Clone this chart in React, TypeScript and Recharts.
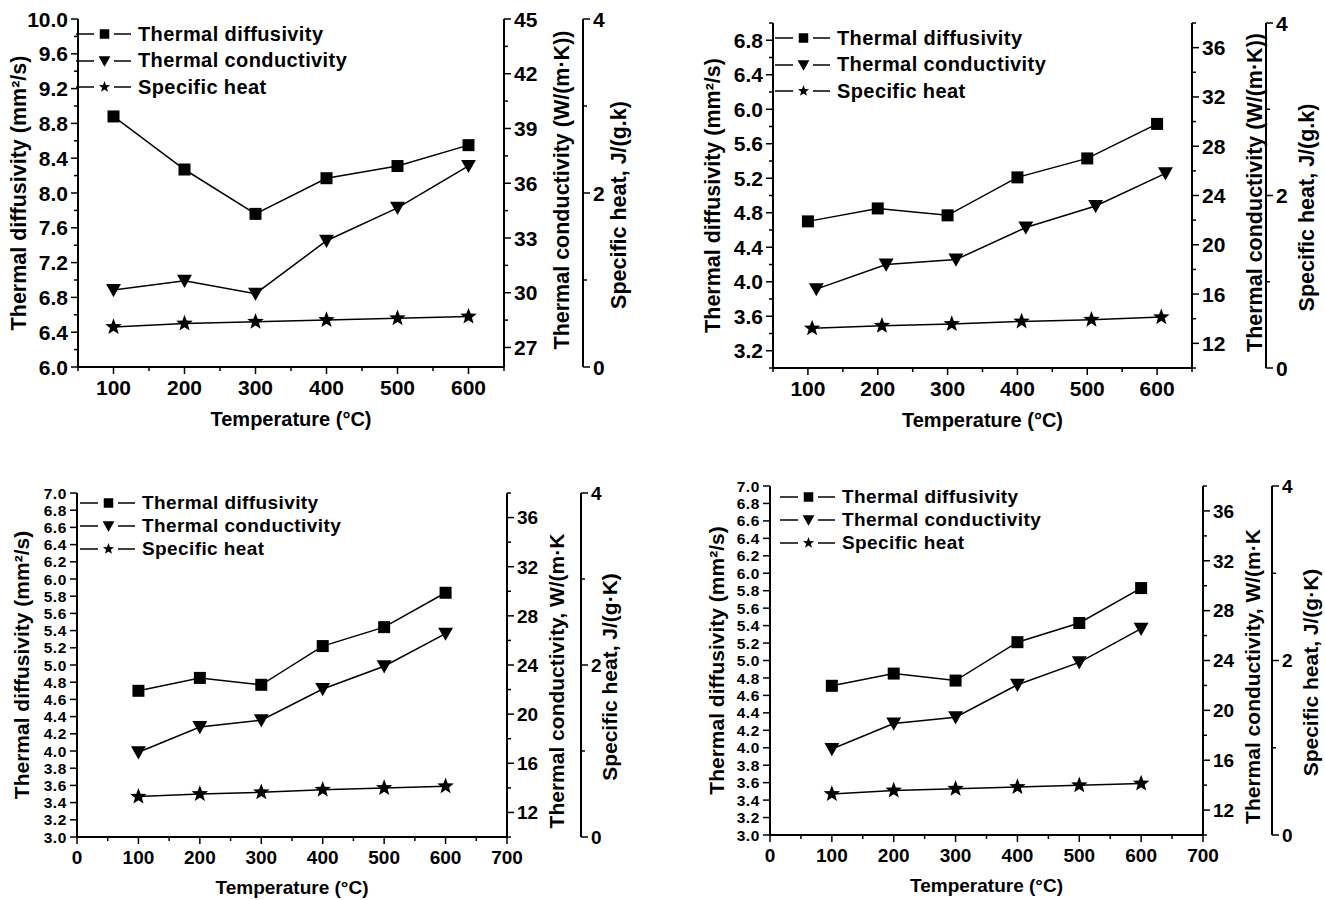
import React from 'react';
import { LineChart, Line, XAxis, YAxis, Legend } from 'recharts';

const FONT = '"Liberation Sans", Arial, Helvetica, sans-serif';
const INK = '#000';

// temperatures (°C)
const temps = [100, 200, 300, 400, 500, 600];

// panel a
const diffA = [8.88, 8.27, 7.76, 8.17, 8.31, 8.55];
const condA = [30.15, 30.65, 29.95, 32.85, 34.65, 36.95];
const heatA = [0.46, 0.5, 0.52, 0.54, 0.56, 0.58];

// panel b
const diffB = [4.7, 4.85, 4.77, 5.21, 5.43, 5.83];
const condB = [16.4, 18.4, 18.8, 21.4, 23.15, 25.8];
const heatB = [0.46, 0.49, 0.51, 0.54, 0.56, 0.59];

// panel c (lower left)
const diffC = [4.7, 4.85, 4.77, 5.22, 5.44, 5.84];
const condC = [16.9, 18.95, 19.5, 22.05, 23.9, 26.55];
const heatC = [0.47, 0.5, 0.52, 0.55, 0.57, 0.59];

// panel c (lower right)
const diffD = [4.71, 4.85, 4.77, 5.21, 5.43, 5.83];
const condD = [16.9, 18.95, 19.45, 22.05, 23.85, 26.55];
const heatD = [0.47, 0.51, 0.53, 0.55, 0.57, 0.59];

// ticks
const xMajorAB = [100, 200, 300, 400, 500, 600];
const xMinorAB = [50, 150, 250, 350, 450, 550, 650];
const xMajorCD = [0, 100, 200, 300, 400, 500, 600, 700];
const xMinorCD = [50, 150, 250, 350, 450, 550, 650];
const diffMajorA = [6.0, 6.4, 6.8, 7.2, 7.6, 8.0, 8.4, 8.8, 9.2, 9.6, 10.0];
const diffMinorA = [6.2, 6.6, 7.0, 7.4, 7.8, 8.2, 8.6, 9.0, 9.4, 9.8];
const diffMajorB = [3.2, 3.6, 4.0, 4.4, 4.8, 5.2, 5.6, 6.0, 6.4, 6.8];
const diffMinorB = [3.0, 3.4, 3.8, 4.2, 4.6, 5.0, 5.4, 5.8, 6.2, 6.6, 7.0];
const diffMajorCD = [3.0, 3.2, 3.4, 3.6, 3.8, 4.0, 4.2, 4.4, 4.6, 4.8, 5.0, 5.2, 5.4, 5.6, 5.8, 6.0, 6.2, 6.4, 6.6, 6.8, 7.0];
const condMajorA = [27, 30, 33, 36, 39, 42, 45];
const condMinorA = [28.5, 31.5, 34.5, 37.5, 40.5, 43.5];
const condMajorB = [12, 16, 20, 24, 28, 32, 36];
const condMinorB = [10, 14, 18, 22, 26, 30, 34, 38];
const heatMajor = [0, 2, 4];
const heatTicks = [0, 1, 2, 3, 4];

const legendItems = [
  { name: 'Thermal diffusivity', shape: 'square' },
  { name: 'Thermal conductivity', shape: 'triangle' },
  { name: 'Specific heat', shape: 'star' },
];

const txt = (fontSize: number) => ({ fill: INK, fontSize, fontWeight: 700, fontFamily: FONT });

function starPath(cx: number, cy: number, r: number) {
  let d = '';
  for (let i = 0; i < 10; i++) {
    const rr = i % 2 === 0 ? r : r * 0.42;
    const a = -Math.PI / 2 + (i * Math.PI) / 5;
    d += (i === 0 ? 'M' : 'L') + (cx + rr * Math.cos(a)).toFixed(2) + ',' + (cy + rr * Math.sin(a)).toFixed(2);
  }
  return d + 'Z';
}

function Marker({ shape, cx, cy, s }: { shape: string; cx: number; cy: number; s: number }) {
  if (shape === 'square') return <rect x={cx - s / 2} y={cy - s / 2} width={s} height={s} fill={INK} />;
  if (shape === 'triangle')
    return <path d={`M${cx - s * 0.62},${cy - s * 0.5} L${cx + s * 0.62},${cy - s * 0.5} L${cx},${cy + s * 0.6} Z`} fill={INK} />;
  return <path d={starPath(cx, cy, s * 0.62)} fill={INK} />;
}

const dotOf = (shape: string, s: number) => (p: any) => {
  if (p.cx == null || p.cy == null) return <g key={p.index} />;
  return <Marker key={p.index} shape={shape} cx={p.cx} cy={p.cy} s={s} />;
};

function tickOf(side: 'left' | 'right' | 'bottom', major: number[], fontSize: number, digits: number, spacing = 0) {
  return (props: any) => {
    const { x, y, payload } = props;
    const v = Number(payload.value);
    const isMajor = major.some((m) => Math.abs(m - v) < 1e-6);
    const len = isMajor ? 7 : 4;
    const label = isMajor ? v.toFixed(digits) : '';
    const style = { ...txt(fontSize), letterSpacing: spacing };
    if (side === 'left')
      return (
        <g>
          <line x1={x} y1={y} x2={x - len} y2={y} stroke={INK} strokeWidth={1.5} />
          {label && <text x={x - 10} y={y} dy="0.36em" textAnchor="end" {...style}>{label}</text>}
        </g>
      );
    if (side === 'right')
      return (
        <g>
          <line x1={x} y1={y} x2={x + len} y2={y} stroke={INK} strokeWidth={1.5} />
          {label && <text x={x + 10} y={y} dy="0.36em" textAnchor="start" {...style}>{label}</text>}
        </g>
      );
    return (
      <g>
        <line x1={x} y1={y} x2={x} y2={y + len} stroke={INK} strokeWidth={1.5} />
        {label && <text x={x} y={y + 13 + fontSize * 0.72} textAnchor="middle" {...style}>{label}</text>}
      </g>
    );
  };
}

const vTitle = (x: number, y: number, text: string, fontSize: number) => () =>
  (
    <text x={x} y={y} transform={`rotate(-90 ${x} ${y})`} textAnchor="middle" dy="0.36em" {...txt(fontSize)}>
      {text}
    </text>
  );

interface PanelProps {
  left: number; top: number; width: number; height: number;
  margin: { top: number; right: number; bottom: number; left: number };
  leftW: number; condW: number; heatW: number; xH: number;
  xDomain: [number, number]; xMajor: number[]; xMinor: number[];
  diffDomain: [number, number]; diffMajor: number[]; diffMinor: number[];
  condDomain: [number, number]; condMajor: number[]; condMinor: number[];
  condShift: number; heatShift: number;
  diff: number[]; cond: number[]; heat: number[];
  letter: string; letterX: number; letterY: number;
  condTitle: string; heatTitle: string;
  titleX: [number, number, number]; titleDy: [number, number, number]; xTitleY: number;
  tickFont: number; leftTickFont: number; leftSpacing: number; titleFont: number; xTitleFont: number; legendFont: number;
  legendX: number; legendY: number; legendRow: number;
}

function Panel(p: PanelProps) {
  const data = temps.map((t, i) => ({ t, diff: p.diff[i], cond: p.cond[i], heat: p.heat[i] }));
  const plotTop = p.margin.top;
  const plotH = p.height - p.margin.top - p.margin.bottom - p.xH;
  const plotL = p.margin.left + p.leftW;
  const plotW = p.width - plotL - p.margin.right - p.condW - p.heatW;
  const midY = plotTop + plotH / 2;
  const axisLine = { stroke: INK, strokeWidth: 2 };

  const legendContent = () => (
    <div style={{ fontFamily: FONT, fontWeight: 700, fontSize: p.legendFont, color: INK }}>
      {legendItems.map((it) => (
        <div key={it.name} style={{ display: 'flex', alignItems: 'center', height: p.legendRow, whiteSpace: 'nowrap' }}>
          <svg width={62} height={16} style={{ display: 'block', flex: 'none' }}>
            <line x1={0} y1={8} x2={18} y2={8} stroke={INK} strokeWidth={1.5} />
            <line x1={38} y1={8} x2={55} y2={8} stroke={INK} strokeWidth={1.5} />
            <Marker shape={it.shape} cx={28.5} cy={8} s={9.5} />
          </svg>
          <span style={{ letterSpacing: 0.4 }}>{it.name}</span>
        </div>
      ))}
    </div>
  );

  return (
    <div style={{ position: 'absolute', left: p.left, top: p.top, width: p.width, height: p.height }}>
      <LineChart width={p.width} height={p.height} data={data} margin={p.margin}>
        <XAxis
          xAxisId="x" dataKey="t" type="number" domain={p.xDomain} allowDataOverflow
          ticks={[...p.xMajor, ...p.xMinor].sort((a, b) => a - b)} interval={0}
          height={p.xH} tickSize={0} tickMargin={0} tickLine={false} axisLine={axisLine}
          tick={tickOf('bottom', p.xMajor, p.tickFont, 0)}
          label={() => (
            <text x={plotL + plotW / 2} y={p.xTitleY} textAnchor="middle" dy="0.36em" {...txt(p.xTitleFont)}>
              Temperature (°C)
            </text>
          )}
        />
        <XAxis
          xAxisId="top" orientation="top" type="number" domain={p.xDomain} allowDataOverflow
          height={0} tick={false} tickLine={false} axisLine={axisLine}
          label={() => (
            <text x={p.letterX} y={p.letterY} textAnchor="end" dy="0.36em" {...txt(p.titleFont + 3)}>
              {p.letter}
            </text>
          )}
        />
        <XAxis xAxisId="xc" dataKey="t" type="number" hide allowDataOverflow
          domain={[p.xDomain[0] - p.condShift, p.xDomain[1] - p.condShift]} />
        <XAxis xAxisId="xh" dataKey="t" type="number" hide allowDataOverflow
          domain={[p.xDomain[0] - p.heatShift, p.xDomain[1] - p.heatShift]} />
        <YAxis
          yAxisId="diff" orientation="left" type="number" domain={p.diffDomain} allowDataOverflow
          ticks={[...p.diffMajor, ...p.diffMinor].sort((a, b) => a - b)} interval={0}
          width={p.leftW} tickSize={0} tickMargin={0} tickLine={false} axisLine={axisLine}
          tick={tickOf('left', p.diffMajor, p.leftTickFont, 1, p.leftSpacing)}
          label={vTitle(p.titleX[0], midY + p.titleDy[0], 'Thermal diffusivity (mm²/s)', p.titleFont)}
        />
        <YAxis
          yAxisId="cond" orientation="right" type="number" domain={p.condDomain} allowDataOverflow
          ticks={[...p.condMajor, ...p.condMinor].sort((a, b) => a - b)} interval={0}
          width={p.condW} tickSize={0} tickMargin={0} tickLine={false} axisLine={axisLine}
          tick={tickOf('right', p.condMajor, p.tickFont, 0)}
          label={vTitle(p.titleX[1], midY + p.titleDy[1], p.condTitle, p.titleFont)}
        />
        <YAxis
          yAxisId="heat" orientation="right" type="number" domain={[0, 4]} allowDataOverflow
          ticks={heatTicks} interval={0}
          width={p.heatW} tickSize={0} tickMargin={0} tickLine={false} axisLine={axisLine}
          tick={tickOf('right', heatMajor, p.tickFont, 0)}
          label={vTitle(p.titleX[2], midY + p.titleDy[2], p.heatTitle, p.titleFont)}
        />
        <Legend
          layout="vertical" align="center" verticalAlign="middle"
          wrapperStyle={{ left: p.legendX, top: p.legendY, width: 320, height: p.legendRow * 3 }}
          content={legendContent}
        />
        <Line xAxisId="x" yAxisId="diff" dataKey="diff" type="linear" stroke={INK} strokeWidth={1.5}
          dot={dotOf('square', 12)} activeDot={false} isAnimationActive={false} />
        <Line xAxisId="xc" yAxisId="cond" dataKey="cond" type="linear" stroke={INK} strokeWidth={1.5}
          dot={dotOf('triangle', 12)} activeDot={false} isAnimationActive={false} />
        <Line xAxisId="xh" yAxisId="heat" dataKey="heat" type="linear" stroke={INK} strokeWidth={1.5}
          dot={dotOf('star', 14)} activeDot={false} isAnimationActive={false} />
      </LineChart>
    </div>
  );
}

const titleAB = 'Thermal conductivity (W/(m·K))';
const heatAB = 'Specific heat, J/(g.k)';
const titleCD = 'Thermal conductivity, W/(m·K';
const heatCD = 'Specific heat, J/(g·K)';

export default function App() {
  return (
    <div style={{ position: 'absolute', left: 0, top: 0, width: 1325, height: 900, background: '#fff' }}>
      <Panel
        left={0} top={0} width={660} height={440}
        margin={{ top: 19, right: 32, bottom: 13, left: 8 }}
        leftW={70} condW={79} heatW={45} xH={60}
        xDomain={[50, 650]} xMajor={xMajorAB} xMinor={xMinorAB}
        diffDomain={[6, 10]} diffMajor={diffMajorA} diffMinor={diffMinorA}
        condDomain={[25.93, 45]} condMajor={condMajorA} condMinor={condMinorA}
        condShift={0} heatShift={0}
        diff={diffA} cond={condA} heat={heatA}
        letter="a" letterX={496} letterY={42}
        condTitle={titleAB} heatTitle={heatAB}
        titleX={[18, 561, 618]} titleDy={[0, -3, 12]} xTitleY={419}
        tickFont={21} leftTickFont={21} leftSpacing={0} titleFont={21.5} xTitleFont={20} legendFont={20}
        legendX={76} legendY={21} legendRow={26.5}
      />
      <Panel
        left={660} top={0} width={665} height={440}
        margin={{ top: 23, right: 14, bottom: 12, left: 38 }}
        leftW={75} condW={74} heatW={45} xH={60}
        xDomain={[50, 650]} xMajor={xMajorAB} xMinor={xMinorAB}
        diffDomain={[3, 7]} diffMajor={diffMajorB} diffMinor={diffMinorB}
        condDomain={[10, 38]} condMajor={condMajorB} condMinor={condMinorB}
        condShift={12} heatShift={6}
        diff={diffB} cond={condB} heat={heatB}
        letter="b" letterX={528} letterY={43}
        condTitle={titleAB} heatTitle={heatAB}
        titleX={[52, 594, 646]} titleDy={[0, -3, 12]} xTitleY={420}
        tickFont={21} leftTickFont={21} leftSpacing={0} titleFont={21.5} xTitleFont={20} legendFont={20}
        legendX={115} legendY={25} legendRow={26.5}
      />
      <Panel
        left={0} top={470} width={660} height={430}
        margin={{ top: 23, right: 34, bottom: 8, left: 12 }}
        leftW={65} condW={74} heatW={45} xH={55}
        xDomain={[0, 700]} xMajor={xMajorCD} xMinor={xMinorCD}
        diffDomain={[3, 7]} diffMajor={diffMajorCD} diffMinor={[]}
        condDomain={[10, 38]} condMajor={condMajorB} condMinor={condMinorB}
        condShift={0} heatShift={0}
        diff={diffC} cond={condC} heat={heatC}
        letter="c" letterX={490} letterY={38}
        condTitle={titleCD} heatTitle={heatCD}
        titleX={[21, 556, 609]} titleDy={[0, 16, 12]} xTitleY={417}
        tickFont={19} leftTickFont={15.5} leftSpacing={0.6} titleFont={21} xTitleFont={19} legendFont={19}
        legendX={80} legendY={21} legendRow={23}
      />
      <Panel
        left={660} top={470} width={665} height={430}
        margin={{ top: 16, right: 8, bottom: 10, left: 40 }}
        leftW={70} condW={69} heatW={45} xH={55}
        xDomain={[0, 700]} xMajor={xMajorCD} xMinor={xMinorCD}
        diffDomain={[3, 7]} diffMajor={diffMajorCD} diffMinor={[]}
        condDomain={[10, 38]} condMajor={condMajorB} condMinor={condMinorB}
        condShift={0} heatShift={0}
        diff={diffD} cond={condD} heat={heatD}
        letter="c" letterX={527} letterY={32}
        condTitle={titleCD} heatTitle={heatCD}
        titleX={[56, 592, 650]} titleDy={[0, 16, 12]} xTitleY={415}
        tickFont={19} leftTickFont={15.5} leftSpacing={0.6} titleFont={21} xTitleFont={19} legendFont={19}
        legendX={120} legendY={15} legendRow={23}
      />
    </div>
  );
}
